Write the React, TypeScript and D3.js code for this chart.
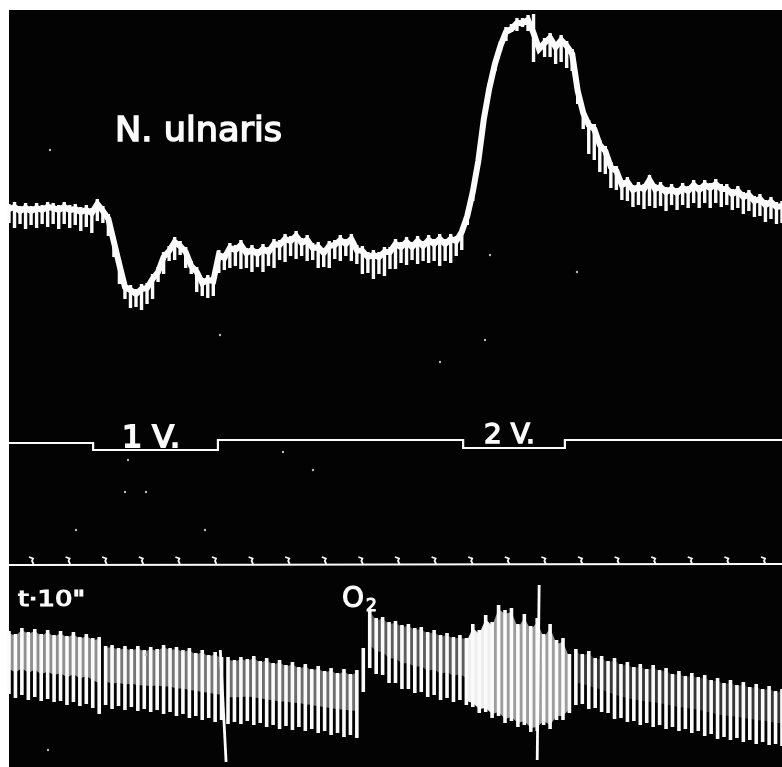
import { useEffect, useRef } from 'react';
import * as d3 from 'd3';

// muscle trace, one value per beat (drawn height of crest and trough)
const muscleCrest = [
  116, 118, 114, 117, 114, 117, 115, 118, 117, 115, 118, 115, 116, 113, 115, 112, 121, 114, 106, 83,
  60, 38, 35, 31, 36, 37, 46, 53, 68, 74, 83, 79, 73, 59, 53, 42, 45, 44, 70, 67,
  77, 75, 80, 72, 75, 71, 76, 73, 81, 80, 86, 84, 89, 82, 85, 77, 78, 72, 79, 80,
  85, 81, 86, 75, 74, 68, 70, 68, 73, 73, 81, 78, 83, 78, 84, 79, 85, 81, 86, 81,
  86, 84, 93, 109, 133, 164, 206, 237, 261, 279, 293, 296, 302, 302, 305, 306, 276, 282, 287, 278,
  285, 279, 271, 234, 212, 200, 196, 180, 174, 158, 154, 140, 143, 135, 138, 136, 145, 136, 138, 133,
  136, 132, 137, 134, 140, 135, 140, 137, 141, 136, 136, 131, 134, 128, 130, 124, 126, 120, 123, 118, 119,
];
const muscleTrough = [
  97, 92, 96, 91, 95, 92, 96, 93, 96, 91, 96, 92, 95, 89, 93, 87, 99, 97, 84, 63,
  36, 21, 12, 13, 10, 16, 21, 38, 46, 59, 60, 65, 52, 46, 28, 24, 22, 24, 47, 50,
  52, 54, 51, 52, 48, 53, 48, 54, 52, 60, 58, 64, 61, 64, 59, 60, 52, 53, 52, 61,
  59, 64, 59, 56, 46, 47, 41, 46, 44, 51, 51, 57, 55, 60, 56, 59, 57, 59, 54, 59,
  57, 64, 70, 95, 119, 156, 194, 229, 249, 269, 279, 288, 289, 293, 289, 258, 269, 263, 263, 256,
  258, 252, 249, 216, 191, 166, 160, 148, 146, 132, 130, 120, 119, 113, 115, 111, 114, 112, 114, 109,
  115, 110, 115, 112, 117, 112, 117, 112, 117, 113, 115, 110, 112, 106, 109, 103, 104, 98, 101, 96, 97,
];

// respiration trace, one value per beat
const breathCrest = [
  129, 126, 132, 128, 131, 126, 130, 125, 129, 124, 128, 123, 126, 122, 123, 114, 115, 112, 114, 111,
  114, 110, 113, 111, 115, 112, 113, 110, 112, 107, 110, 105, 108, 103, 103, 100, 103, 101, 104, 99,
  102, 97, 100, 95, 98, 93, 96, 91, 94, 89, 92, 87, 91, 86, 90, 112, 150, 142, 143, 138,
  139, 135, 136, 132, 133, 128, 130, 125, 127, 123, 125, 122, 136, 130, 145, 138, 155, 150, 152, 136,
  146, 134, 142, 126, 136, 120, 122, 106, 111, 106, 109, 102, 104, 99, 102, 96, 98, 93, 96, 91,
  95, 90, 92, 86, 89, 84, 87, 83, 85, 80, 82, 77, 80, 75, 78, 73, 76, 71, 74, 69, 71,
];
const breathTrough = [
  66, 62, 65, 60, 63, 59, 61, 58, 59, 55, 58, 54, 56, 52, 46, 55, 51, 54, 50, 53,
  49, 51, 48, 50, 46, 48, 44, 46, 42, 44, 40, 42, 38, 40, 36, 38, 36, 39, 35, 37,
  33, 35, 31, 34, 30, 33, 29, 31, 27, 29, 25, 27, 23, 25, 22, 68, 92, 86, 85, 77,
  77, 71, 71, 67, 68, 63, 65, 60, 62, 58, 60, 55, 53, 47, 48, 42, 44, 37, 39, 33,
  35, 28, 29, 35, 31, 40, 40, 47, 55, 56, 51, 52, 48, 47, 41, 42, 38, 39, 35, 37,
  33, 35, 31, 33, 29, 31, 27, 29, 24, 26, 21, 23, 20, 22, 18, 20, 16, 18, 15, 16, 14,
];
// long strokes through the respiration trace: beat and height at each end
const strokeBeats = [[32.8, 33.7], [82.3, 82]];
const strokeHeights = [[110, -2], [175, 0]];
// grey wash between the teeth: first beat, last beat, strength
const hazeStart = [0, 15, 34, 56, 88];
const hazeEnd = [14, 33, 54, 71, 120];
const hazeStrength = [0.85, 0.7, 0.65, 0.55, 0.32];
// the oxygen burst runs over these beats
const burstSolid = [71, 75];
const burstHaze = [75, 87];

// seconds on the time marker
const markerSeconds = d3.range(0, 210, 10);
// stimulus signal, step changes
const signalSeconds = [-6.3, 16.7, 50.8, 117.8, 145.6, 205];
const signalLevels = [443, 450, 440, 448, 440, 440];

const dustX = [50, 128, 283, 125, 76, 205, 313, 490, 485, 146, 440, 220, 146, 48, 577];
const dustY = [150, 460, 452, 492, 530, 530, 470, 255, 340, 492, 362, 335, 655, 750, 272];

const labels = [
  { text: 'N. ulnaris', x: 115, y: 141, size: 33, width: 167, weight: 1.5 },
  { text: '1 V.', x: 122, y: 447, size: 31, width: 58, weight: 1.8 },
  { text: '2 V.', x: 484, y: 443, size: 26, width: 51, weight: 1.4 },
  { text: 't·10"', x: 18, y: 606, size: 21, width: 67, weight: 1.2 },
];

export default function App() {
  const svgRef = useRef<SVGSVGElement>(null);

  useEffect(() => {
    if (!svgRef.current) return;
    const svg = d3.select(svgRef.current);
    svg.selectAll('*').remove();

    const width = 782;
    const height = 767;
    const white = '#fbfbfb';

    svg
      .append('defs')
      .append('filter')
      .attr('id', 'soft')
      .append('feGaussianBlur')
      .attr('stdDeviation', 0.5);

    svg.append('rect').attr('x', 9).attr('y', 10).attr('width', width - 9).attr('height', height - 10).attr('fill', '#030303');

    const g = svg.append('g').attr('filter', 'url(#soft)');

    // muscle trace
    const xMuscle = d3.scaleLinear().domain([0, muscleCrest.length - 1]).range([9, 782]);
    const yMuscle = d3.scaleLinear().domain([0, 320]).range([320, 0]);
    g.append('g')
      .selectAll('line')
      .data(muscleCrest)
      .join('line')
      .attr('x1', (_, i) => xMuscle(i))
      .attr('x2', (_, i) => xMuscle(i))
      .attr('y1', (d) => yMuscle(d))
      .attr('y2', (_, i) => yMuscle(muscleTrough[i]))
      .attr('stroke', white)
      .attr('stroke-width', 3.4);
    const muscleBand = d3
      .line<number>()
      .x((_, i) => xMuscle(i))
      .y((d) => yMuscle(d - 5));
    g.append('path')
      .datum(muscleCrest.map((d, i) => (i === 95 ? 292 : d)))
      .attr('fill', 'none')
      .attr('stroke', white)
      .attr('stroke-width', 6)
      .attr('d', muscleBand);

    // respiration trace
    const xBreath = d3.scaleLinear().domain([0, breathCrest.length - 1]).range([9, 782]);
    const yBreath = d3.scaleLinear().domain([0, 760]).range([760, 0]);
    const haze = d3
      .area<number>()
      .x((b) => xBreath(b))
      .y0((b) => yBreath(breathCrest[b] - 2))
      .y1((b) => yBreath(breathCrest[b] - (breathCrest[b] - breathTrough[b]) * 0.6));
    hazeStart.forEach((start, i) => {
      g.append('path')
        .datum(d3.range(start, hazeEnd[i] + 1))
        .attr('fill', '#a8a8a8')
        .attr('opacity', hazeStrength[i])
        .attr('d', haze);
    });

    g.append('g')
      .selectAll('line')
      .data(breathCrest)
      .join('line')
      .attr('x1', (_, i) => xBreath(i))
      .attr('x2', (_, i) => xBreath(i))
      .attr('y1', (d) => yBreath(d))
      .attr('y2', (_, i) => yBreath(breathTrough[i]))
      .attr('stroke', white)
      .attr('stroke-width', 3.6);

    const burst = (range: number[], opacity: number) => {
      const beats = d3.range(range[0], range[1] + 1);
      const a = d3
        .area<number>()
        .x((b) => xBreath(b))
        .y0((b) => yBreath(breathCrest[b] - 4))
        .y1((b) => yBreath(breathTrough[b] + 4));
      g.append('path').datum(beats).attr('fill', white).attr('opacity', opacity).attr('d', a);
    };
    burst(burstSolid, 0.95);
    burst(burstHaze, 0.62);

    g.append('g')
      .selectAll('line')
      .data(strokeBeats)
      .join('line')
      .attr('x1', (d) => xBreath(d[0]))
      .attr('x2', (d) => xBreath(d[1]))
      .attr('y1', (_, i) => yBreath(strokeHeights[i][0]))
      .attr('y2', (_, i) => yBreath(strokeHeights[i][1]))
      .attr('stroke', white)
      .attr('stroke-width', 2.8);

    // signal and time marker share the seconds scale
    const xTime = d3.scaleLinear().domain([0, 200]).range([32, 764]);
    const signal = d3
      .line<number>()
      .x((d) => xTime(d))
      .y((_, i) => signalLevels[i])
      .curve(d3.curveStepAfter);
    g.append('path')
      .datum(signalSeconds)
      .attr('fill', 'none')
      .attr('stroke', white)
      .attr('stroke-width', 2.2)
      .attr('d', signal);

    g.append('line')
      .attr('x1', 9)
      .attr('x2', width)
      .attr('y1', 565)
      .attr('y2', 564)
      .attr('stroke', white)
      .attr('stroke-width', 2);
    g.append('g')
      .selectAll('path')
      .data(markerSeconds)
      .join('path')
      .attr('fill', 'none')
      .attr('stroke', white)
      .attr('stroke-width', 1.8)
      .attr('d', (d) => {
        const x = xTime(d);
        return `M${x - 3},557 L${x + 1},558.5 L${x},561 L${x + 1.5},564`;
      });

    g.append('g')
      .selectAll('circle')
      .data(dustX)
      .join('circle')
      .attr('cx', (d) => d)
      .attr('cy', (_, i) => dustY[i])
      .attr('r', 1.2)
      .attr('fill', '#bbb');

    // lettering
    g.append('g')
      .selectAll('text')
      .data(labels)
      .join('text')
      .attr('x', (d) => d.x)
      .attr('y', (d) => d.y)
      .attr('font-family', '"DejaVu Sans", sans-serif')
      .attr('font-size', (d) => d.size)
      .attr('textLength', (d) => d.width)
      .attr('lengthAdjust', 'spacingAndGlyphs')
      .attr('fill', white)
      .attr('stroke', white)
      .attr('stroke-width', (d) => d.weight)
      .text((d) => d.text);

    const oxygen = g
      .append('text')
      .attr('x', 342)
      .attr('y', 607)
      .attr('font-family', '"DejaVu Sans", sans-serif')
      .attr('font-size', 28)
      .attr('fill', white)
      .attr('stroke', white)
      .attr('stroke-width', 1.2);
    oxygen.append('tspan').text('O');
    oxygen.append('tspan').attr('font-size', 17).attr('dy', 4).attr('dx', 2).text('2');
  }, []);

  return (
    <svg
      ref={svgRef}
      width={782}
      height={767}
      viewBox="0 0 782 767"
      style={{ position: 'absolute', left: 0, top: 0, background: '#fff', display: 'block' }}
    />
  );
}
